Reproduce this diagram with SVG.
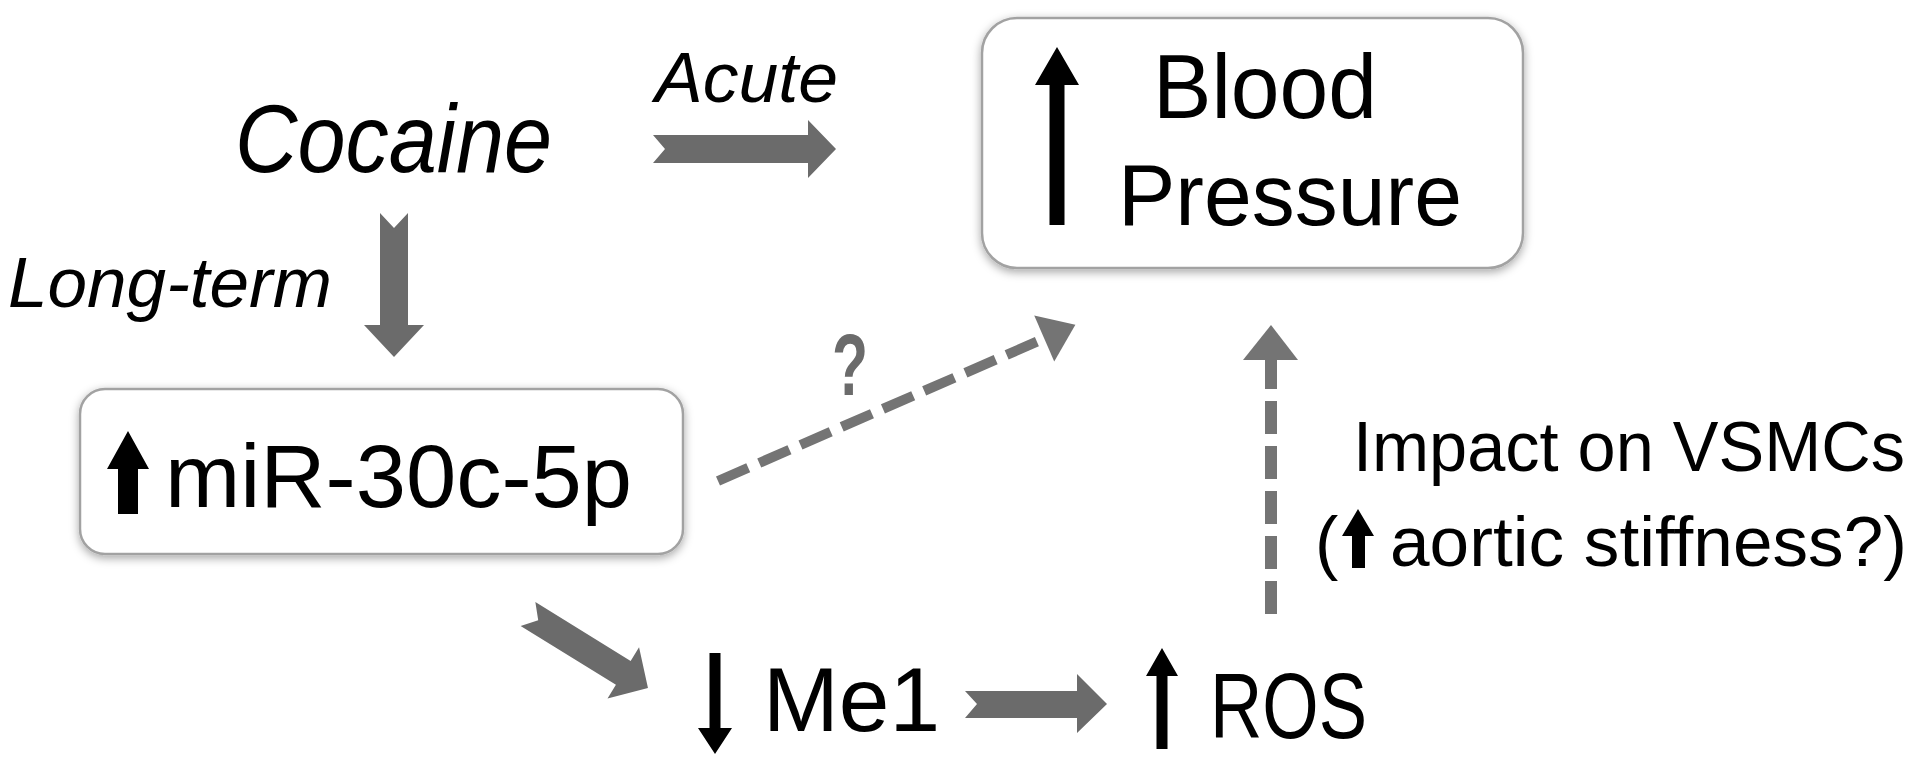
<svg xmlns="http://www.w3.org/2000/svg" width="1920" height="763" viewBox="0 0 1920 763">
  <defs>
    <filter id="shadow" x="-10%" y="-20%" width="120%" height="140%">
      <feDropShadow dx="0" dy="3" stdDeviation="5" flood-color="#000" flood-opacity="0.35"/>
    </filter>
    <style>
      text { font-family: "Liberation Sans", Arial, sans-serif; fill: #000; }
      .it { font-style: italic; }
      .box { fill: #fff; stroke: #a2a2a2; stroke-width: 2.5; filter: url(#shadow); }
      .blk { fill: #6b6b6b; }
      .dash { fill: none; stroke: #747474; stroke-dasharray: 33 12; }
      .dhead { fill: #747474; }
      .up { fill: #000; }
    </style>
  </defs>
  <rect width="1920" height="763" fill="#fff"/>

  <g id="connectors">
    <!-- Cocaine -> BP (Acute) -->
    <path class="blk" d="M653,135 L808,135 L808,120 L836,149 L808,178 L808,163 L653,163 L665,149 Z"/>
    <!-- Cocaine -> miR (Long-term) -->
    <path class="blk" d="M380,213 L394,228 L408,213 L408,325 L424,325 L394,357 L364,325 L380,325 Z"/>
    <!-- miR -> Me1 -->
    <path class="blk" transform="translate(528,614) rotate(31.7)" d="M0,-14 L112,-14 L112,-30 L141,0 L112,30 L112,14 L0,14 L12,0 Z"/>
    <!-- Me1 -> ROS -->
    <path class="blk" d="M965,691 L1077,691 L1077,674 L1107,704 L1077,733 L1077,718 L965,718 L977,704 Z"/>
    <!-- miR -> BP (dashed, ?) -->
    <g transform="translate(718,481) rotate(-23.6)">
      <path class="dash" stroke-width="10" d="M0,0 L358,0"/>
      <path class="dhead" d="M390,0 L356,-25 L356,25 Z"/>
    </g>
    <!-- ROS -> BP (dashed) -->
    <path class="dash" stroke-width="12" d="M1271,614 L1271,358"/>
    <path class="dhead" d="M1271,325 L1298,360 L1243,360 Z"/>
  </g>

  <g id="label-acute"><text class="it" x="655" y="102" font-size="70" textLength="183" lengthAdjust="spacingAndGlyphs">Acute</text></g>
  <g id="label-longterm"><text class="it" x="8" y="307" font-size="70" textLength="324" lengthAdjust="spacingAndGlyphs">Long-term</text></g>
  <g id="label-q"><text x="832" y="395" font-size="88" font-weight="bold" style="fill:#6b6b6b" textLength="36" lengthAdjust="spacingAndGlyphs">?</text></g>

  <g id="node-cocaine">
    <text class="it" x="235" y="172" font-size="96" textLength="317" lengthAdjust="spacingAndGlyphs">Cocaine</text>
  </g>

  <g id="node-bp">
    <rect class="box" x="982" y="18" width="541" height="250" rx="35" ry="35"/>
    <path class="up" d="M1057,47 L1079,85 L1064.5,85 L1064.5,225 L1049.5,225 L1049.5,85 L1035,85 Z"/>
    <text x="1153" y="118" font-size="91" textLength="224" lengthAdjust="spacingAndGlyphs">Blood</text>
    <text x="1118" y="225" font-size="88" textLength="344" lengthAdjust="spacingAndGlyphs">Pressure</text>
  </g>

  <g id="node-mir">
    <rect class="box" x="80" y="389" width="603" height="165" rx="25" ry="25"/>
    <path class="up" d="M128,431 L149,469 L138,469 L138,514 L118,514 L118,469 L107,469 Z"/>
    <text x="165" y="507" font-size="89" textLength="467" lengthAdjust="spacingAndGlyphs">miR-30c-5p</text>
  </g>

  <g id="node-me1">
    <path class="up" d="M715,754 L732,728 L720.5,728 L720.5,653 L709.5,653 L709.5,728 L698,728 Z"/>
    <text x="763" y="731" font-size="91" textLength="177" lengthAdjust="spacingAndGlyphs">Me1</text>
  </g>

  <g id="node-ros">
    <path class="up" d="M1162,648 L1178,676 L1167.5,676 L1167.5,749 L1156.5,749 L1156.5,676 L1146,676 Z"/>
    <text x="1210" y="738" font-size="93" textLength="157" lengthAdjust="spacingAndGlyphs">ROS</text>
  </g>

  <g id="label-vsmc">
    <text x="1353" y="471" font-size="70" textLength="552" lengthAdjust="spacingAndGlyphs">Impact on VSMCs</text>
    <text x="1315" y="566" font-size="70">(</text>
    <path class="up" d="M1358,509 L1374,536 L1365,536 L1365,568 L1352,568 L1352,536 L1342,536 Z"/>
    <text x="1390" y="566" font-size="70" textLength="517" lengthAdjust="spacingAndGlyphs">aortic stiffness?)</text>
  </g>
</svg>
